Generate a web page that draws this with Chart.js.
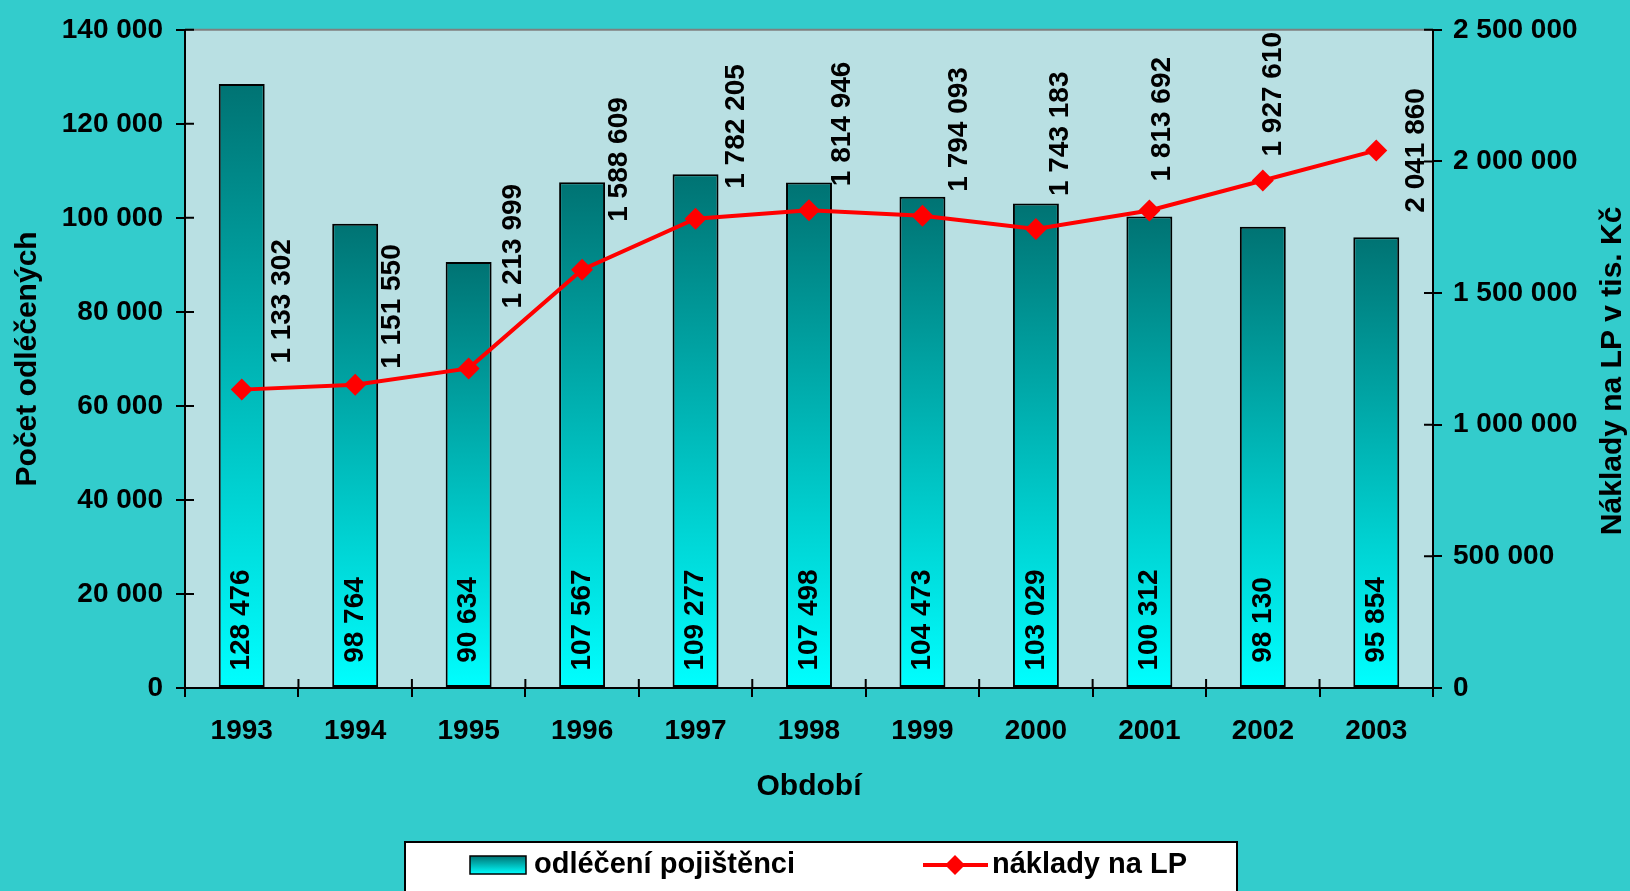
<!DOCTYPE html>
<html>
<head>
<meta charset="utf-8">
<script src="https://cdn.jsdelivr.net/npm/chart.js@4.4.1/dist/chart.umd.min.js"></script>
<style>
  body { margin: 0; background: #33cccc; }
  #wrap { width: 1630px; height: 891px; }
</style>
</head>
<body>
<div id="wrap"><canvas id="chart" width="1630" height="891"></canvas></div>
<script>
const years = ['1993', '1994', '1995', '1996', '1997', '1998', '1999', '2000', '2001', '2002', '2003'];
const patients = [128476, 98764, 90634, 107567, 109277, 107498, 104473, 103029, 100312, 98130, 95854];
const costs = [1133302, 1151550, 1213999, 1588609, 1782205, 1814946, 1794093, 1743183, 1813692, 1927610, 2041860];

// hand placed label nudges from the original (dx, gap above point; null = beside point)
const costLabelNudge = [[41, 26], [37, 16], [45, 60], [37, 48], [41, 30], [33, 24], [37, 24], [24, 33], [13, 29], [10, 24], [40, null]];

const FONT = "'Liberation Sans', Arial, sans-serif";
const BOLD = `bold 28px ${FONT}`;
const TITLE = `bold 30px ${FONT}`;

function spaced(v) {
  return String(v).replace(/\B(?=(\d{3})+(?!\d))/g, ' ');
}

function tealGradient(ctx, top, bottom) {
  const g = ctx.createLinearGradient(0, top, 0, bottom);
  g.addColorStop(0, '#007373');
  g.addColorStop(1, '#00ffff');
  return g;
}

const plotBackground = {
  id: 'plotBackground',
  beforeDraw(chart) {
    const {ctx, chartArea: a} = chart;
    ctx.save();
    ctx.fillStyle = '#b9e0e3';
    ctx.fillRect(a.left, a.top, a.right - a.left, a.bottom - a.top);
    ctx.strokeStyle = '#808080';
    ctx.lineWidth = 2;
    ctx.beginPath();
    ctx.moveTo(a.left, a.top);
    ctx.lineTo(a.right, a.top);
    ctx.stroke();
    ctx.restore();
  }
};

// excel style "cross" tick marks: the inner half of each tick
const innerTicks = {
  id: 'innerTicks',
  beforeDatasetsDraw(chart) {
    const {ctx, chartArea: a, scales} = chart;
    ctx.save();
    ctx.strokeStyle = '#000';
    ctx.lineWidth = 2;
    ctx.beginPath();
    scales.y.ticks.forEach((t, i) => {
      const y = scales.y.getPixelForTick(i);
      ctx.moveTo(a.left, y);
      ctx.lineTo(a.left + 9, y);
    });
    scales.y1.ticks.forEach((t, i) => {
      const y = scales.y1.getPixelForTick(i);
      ctx.moveTo(a.right, y);
      ctx.lineTo(a.right - 9, y);
    });
    const n = years.length;
    for (let i = 0; i <= n; i++) {
      const x = a.left + (a.right - a.left) * i / n;
      ctx.moveTo(x, a.bottom);
      ctx.lineTo(x, a.bottom - 9);
    }
    ctx.stroke();
    ctx.restore();
  }
};

const valueLabels = {
  id: 'valueLabels',
  afterDatasetsDraw(chart) {
    const ctx = chart.ctx;
    ctx.save();
    ctx.font = BOLD;
    ctx.fillStyle = '#000';
    ctx.textBaseline = 'middle';
    chart.getDatasetMeta(0).data.forEach((bar, i) => {
      ctx.save();
      ctx.translate(bar.x, bar.base - 67);
      ctx.rotate(-Math.PI / 2);
      ctx.textAlign = 'center';
      ctx.fillText(spaced(patients[i]), 0, 0);
      ctx.restore();
    });
    chart.getDatasetMeta(1).data.forEach((pt, i) => {
      const [dx, gap] = costLabelNudge[i];
      ctx.save();
      ctx.translate(pt.x + dx, gap === null ? pt.y : pt.y - gap);
      ctx.rotate(-Math.PI / 2);
      ctx.textAlign = gap === null ? 'center' : 'left';
      ctx.fillText(spaced(costs[i]), 0, 0);
      ctx.restore();
    });
    ctx.restore();
  }
};

// right axis title reads bottom to top, like the left one
const rightTitle = {
  id: 'rightTitle',
  afterDraw(chart) {
    const {ctx} = chart;
    const s = chart.scales.y1;
    ctx.save();
    ctx.font = TITLE;
    ctx.fillStyle = '#000';
    ctx.textAlign = 'center';
    ctx.textBaseline = 'middle';
    ctx.translate(s.right - 17, (s.top + s.bottom) / 2 + 12);
    ctx.rotate(-Math.PI / 2);
    ctx.fillText('Náklady na LP v tis. Kč', 0, 0);
    ctx.restore();
  }
};

const legendBox = {
  id: 'legendBox',
  afterDraw(chart) {
    const {ctx} = chart;
    const left = 405, right = 1237, top = 842;
    const mid = top + 23;
    ctx.save();
    ctx.fillStyle = '#fff';
    ctx.fillRect(left, top, right - left, 60);
    ctx.strokeStyle = '#000';
    ctx.lineWidth = 2;
    ctx.strokeRect(left, top, right - left, 60);

    // bar swatch
    ctx.fillStyle = tealGradient(ctx, mid - 9, mid + 9);
    ctx.fillRect(left + 65, mid - 9, 56, 18);
    ctx.lineWidth = 1.5;
    ctx.strokeRect(left + 65, mid - 9, 56, 18);

    // line swatch
    ctx.strokeStyle = '#ff0000';
    ctx.lineWidth = 4;
    ctx.beginPath();
    ctx.moveTo(left + 518, mid);
    ctx.lineTo(left + 583, mid);
    ctx.stroke();
    ctx.fillStyle = '#ff0000';
    ctx.beginPath();
    ctx.moveTo(left + 550 - 10, mid);
    ctx.lineTo(left + 550, mid - 10);
    ctx.lineTo(left + 550 + 10, mid);
    ctx.lineTo(left + 550, mid + 10);
    ctx.closePath();
    ctx.fill();

    ctx.fillStyle = '#000';
    ctx.font = `bold 29px ${FONT}`;
    ctx.textAlign = 'left';
    ctx.textBaseline = 'middle';
    ctx.fillText('odléčení pojištěnci', left + 129, mid);
    ctx.fillText('náklady na LP', left + 587, mid);
    ctx.restore();
  }
};

const tickFont = {family: FONT, size: 28, weight: 'bold'};
const titleFont = {family: FONT, size: 30, weight: 'bold'};

new Chart(document.getElementById('chart'), {
  type: 'bar',
  data: {
    labels: years,
    datasets: [{
      label: 'odléčení pojištěnci',
      data: patients,
      yAxisID: 'y',
      order: 1,
      backgroundColor(c) {
        const chart = c.chart;
        if (!chart.chartArea || c.dataIndex === undefined) return '#00a0a0';
        const y = chart.scales.y;
        return tealGradient(chart.ctx, y.getPixelForValue(c.raw), y.getPixelForValue(0));
      },
      borderColor: '#000',
      borderWidth: 2,
      borderSkipped: false,
      barPercentage: 0.405,
      categoryPercentage: 1
    }, {
      type: 'line',
      label: 'náklady na LP',
      data: costs,
      yAxisID: 'y1',
      order: 0,
      borderColor: '#ff0000',
      borderWidth: 4,
      backgroundColor: '#ff0000',
      pointStyle: 'rectRot',
      pointRadius: 11,
      pointBorderWidth: 0,
      pointBackgroundColor: '#ff0000',
      tension: 0
    }]
  },
  options: {
    responsive: false,
    animation: false,
    layout: {padding: {top: 28, bottom: 49, left: 0, right: 0}},
    plugins: {
      legend: {display: false},
      tooltip: {enabled: false}
    },
    scales: {
      x: {
        grid: {drawOnChartArea: false, color: '#000', lineWidth: 2, tickLength: 9},
        border: {color: '#000', width: 2},
        ticks: {color: '#000', font: tickFont, padding: 17},
        title: {display: true, text: 'Období', color: '#000', font: titleFont, padding: {top: 0, bottom: 37}},
        afterFit(s) { s.height = 154; }
      },
      y: {
        position: 'left',
        min: 0,
        max: 140000,
        ticks: {stepSize: 20000, color: '#000', font: tickFont, padding: 13, callback: v => spaced(v)},
        grid: {drawOnChartArea: false, color: '#000', lineWidth: 2, tickLength: 9},
        border: {color: '#000', width: 2},
        title: {display: true, text: 'Počet odléčených', color: '#000', font: titleFont, padding: {top: 10, bottom: 0}},
        afterFit(s) { s.width = 185; }
      },
      y1: {
        position: 'right',
        min: 0,
        max: 2500000,
        ticks: {stepSize: 500000, color: '#000', font: tickFont, padding: 11, callback: v => spaced(v)},
        grid: {drawOnChartArea: false, color: '#000', lineWidth: 2, tickLength: 9},
        border: {color: '#000', width: 2},
        afterFit(s) { s.width = 197; }
      }
    }
  },
  plugins: [plotBackground, innerTicks, valueLabels, rightTitle, legendBox]
});
</script>
</body>
</html>
